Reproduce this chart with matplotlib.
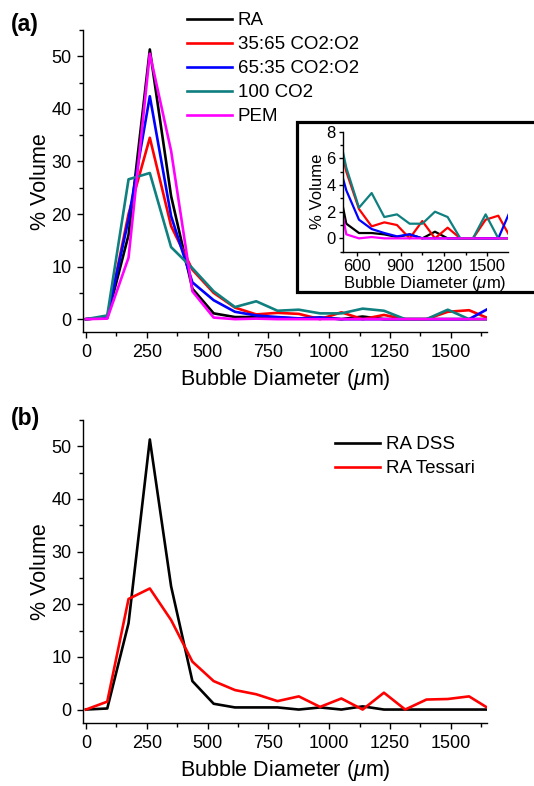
import matplotlib
matplotlib.use("Agg")
import matplotlib.pyplot as plt
from matplotlib.patches import Rectangle
from matplotlib.ticker import MultipleLocator

plt.rcParams['font.family'] = ['Liberation Sans', 'DejaVu Sans']
plt.rcParams['mathtext.fontset'] = 'custom'
plt.rcParams['mathtext.it'] = 'Liberation Sans:italic'
plt.rcParams['mathtext.rm'] = 'Liberation Sans'

# bubble diameter bins (um)
diam = [87.5 * i for i in range(20)]

# panel (a)
ra = [0, 0.3, 16, 51.3, 23.4, 5.8, 1.1, 0.4, 0.4, 0.3, 0.1, 0.3, 0, 0.5, 0, 0, 0, 0, 0, 0]
co2_35 = [0, 0.3, 20, 34.5, 17.7, 9.4, 5.0, 2.2, 0.9, 1.2, 1.0, 0, 1.3, 0, 0.8, 0, 0, 1.4, 1.7, 0]
co2_65 = [0, 0.3, 19, 42.4, 19.6, 7.0, 3.6, 1.4, 0.7, 0.4, 0.15, 0.3, 0, 0, 0, 0, 0, 0, 0, 2.2]
co2_100 = [0, 0.7, 26.6, 27.8, 13.7, 9.7, 5.3, 2.3, 3.4, 1.6, 1.8, 1.1, 1.1, 2.0, 1.6, 0, 0, 1.8, 0, 0]
pem = [0, 0.1, 11.7, 50.5, 32, 5.3, 0.3, 0, 0.1, 0, 0, 0, 0, 0, 0, 0, 0, 0, 0, 0]

# panel (b)
ra_dss = [0, 0.2, 16.4, 51.3, 23.4, 5.4, 1.1, 0.4, 0.4, 0.4, 0, 0.4, 0, 0.6, 0, 0, 0, 0, 0, 0]
ra_tessari = [0, 1.5, 21, 23, 17, 9.1, 5.4, 3.7, 2.9, 1.6, 2.5, 0.5, 2.1, 0, 3.2, 0, 1.9, 2.0, 2.5, 0]

series_a = [(ra, 'black', 'RA'), (co2_35, 'red', '35:65 CO2:O2'),
            (co2_65, 'blue', '65:35 CO2:O2'), (co2_100, '#0f7f7f', '100 CO2'),
            (pem, '#ff00ff', 'PEM')]
series_b = [(ra_dss, 'black', 'RA DSS'), (ra_tessari, 'red', 'RA Tessari')]

W, H = 534, 786
fig = plt.figure(figsize=(W / 100, H / 100), dpi=100)


def style(ax, fs=13):
    for s in ['top', 'right']:
        ax.spines[s].set_visible(False)
    for s in ['left', 'bottom']:
        ax.spines[s].set_linewidth(1.0)
    ax.tick_params(which='major', direction='out', length=4.5, width=1.0, labelsize=fs, pad=4)
    ax.tick_params(which='minor', direction='out', length=2.8, width=1.0)


def main_axes(rect, series, legend_anchor):
    ax = fig.add_axes(rect)
    for y, c, lab in series:
        ax.plot(diam, y, color=c, lw=1.9, label=lab)
    ax.set_xlim(-11, 1650)
    ax.set_ylim(-2.5, 55)
    ax.xaxis.set_major_locator(MultipleLocator(250))
    ax.xaxis.set_minor_locator(MultipleLocator(125))
    ax.yaxis.set_major_locator(MultipleLocator(10))
    ax.yaxis.set_minor_locator(MultipleLocator(5))
    style(ax)
    ax.set_xlabel('Bubble Diameter ($\\mu$m)', fontsize=15.5, labelpad=4.5)
    ax.set_ylabel('% Volume', fontsize=15.5, labelpad=0)
    ax.legend(loc='upper left', bbox_to_anchor=legend_anchor, bbox_transform=fig.transFigure,
              frameon=False, fontsize=13.5, handlelength=2.4, handletextpad=0.3,
              labelspacing=0.37, borderpad=0, borderaxespad=0)
    return ax


ax1 = main_axes([83.3 / W, 1 - 332.3 / H, 404 / W, 302.3 / H], series_a, (187 / W, 1 - 12 / H))
ax2 = main_axes([83.3 / W, 1 - 722.7 / H, 404 / W, 302.7 / H], series_b, (335 / W, 1 - 436 / H))

fig.text(11 / W, 1 - 25 / H, '(a)', fontsize=16.5, fontweight='bold', va='center')
fig.text(11 / W, 1 - 418 / H, '(b)', fontsize=16.5, fontweight='bold', va='center')

# inset frame
frame = Rectangle((297 / W, 1 - 292 / H), 0.5, 170.3 / H, transform=fig.transFigure,
                  facecolor='white', edgecolor='black', lw=2.3, zorder=5)
fig.patches.append(frame)

axi = fig.add_axes([342.7 / W, 1 - 251.7 / H, 165 / W, 120 / H])
axi.set_zorder(10)
axi.patch.set_alpha(0)
for y, c, lab in series_a:
    axi.plot(diam, y, color=c, lw=1.6)
axi.set_xlim(500, 1640)
axi.set_ylim(-1, 8)
axi.xaxis.set_major_locator(MultipleLocator(300))
axi.xaxis.set_minor_locator(MultipleLocator(150))
axi.yaxis.set_major_locator(MultipleLocator(2))
axi.yaxis.set_minor_locator(MultipleLocator(1))
style(axi, fs=12)
axi.tick_params(which='major', length=3, pad=2)
axi.tick_params(which='minor', length=2)
axi.set_xlabel('Bubble Diameter ($\\mu$m)', fontsize=12, labelpad=0)
axi.set_ylabel('% Volume', fontsize=12, labelpad=1)

fig.savefig('out.png', dpi=100)
